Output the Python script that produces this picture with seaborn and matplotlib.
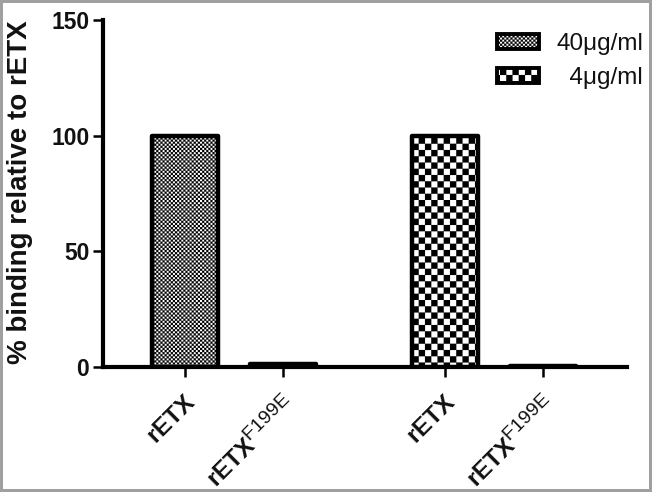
import numpy as np
import pandas as pd
import matplotlib
matplotlib.use("Agg")
import matplotlib.pyplot as plt
import matplotlib.hatch as mhatch
import matplotlib._mathtext as _mt
from matplotlib.path import Path
from matplotlib.patches import Patch
from matplotlib.transforms import ScaledTranslation
import seaborn as sns
import warnings
warnings.filterwarnings("ignore")

# ---- data ----
concentration = ["40μg/ml", "40μg/ml", "4μg/ml", "4μg/ml"]
protein = ["rETX", "rETX F199E", "rETX", "rETX F199E"]
binding = [100, 1.2, 100, 0.3]
tick_labels = [r"$\mathbf{rETX}$", r"$\mathbf{rETX}^{\mathrm{F199E}}$",
               r"$\mathbf{rETX}$", r"$\mathbf{rETX}^{\mathrm{F199E}}$"]
legend_labels = ["40μg/ml", "\u20074μg/ml"]
yticks = [0, 50, 100, 150]
ylabel = "% binding relative to rETX"


# ---- checkerboard hatch ----
class CheckerHatch(mhatch.HatchPatternBase):
    filled = True

    def __init__(self, hatch, density):
        self.n = int(round(hatch.count('c') * density / 3.0))
        self.num_vertices = 2 * self.n * self.n * 5 if self.n else 0

    def set_vertices_and_codes(self, vertices, codes):
        n = self.n
        s = 1.0 / (2 * n)
        k = 0
        for i in range(2 * n):
            for j in range(2 * n):
                if (i + j) % 2 == 0:
                    x0, y0 = i * s, j * s
                    vertices[k:k + 5] = [(x0, y0), (x0 + s, y0), (x0 + s, y0 + s),
                                         (x0, y0 + s), (x0, y0)]
                    codes[k:k + 5] = [Path.MOVETO, Path.LINETO, Path.LINETO,
                                      Path.LINETO, Path.CLOSEPOLY]
                    k += 5


mhatch._hatch_types.append(CheckerHatch)
hatches = {"40μg/ml": "c" * 12, "4μg/ml": "c" * 4}
_mt.SHRINK_FACTOR = 0.8

sns.set_style("ticks")
plt.rcParams['font.family'] = ['Liberation Sans', 'DejaVu Sans']
plt.rcParams['mathtext.fontset'] = 'custom'
plt.rcParams['mathtext.rm'] = 'Liberation Sans'
plt.rcParams['mathtext.bf'] = 'Liberation Sans:bold'
plt.rcParams['mathtext.it'] = 'Liberation Sans:italic'
plt.rcParams['hatch.linewidth'] = 0.1
plt.rcParams['hatch.color'] = 'black'
for key in ['text.color', 'axes.labelcolor', 'xtick.color', 'ytick.color']:
    plt.rcParams[key] = '#111111'

df = pd.DataFrame({"concentration": concentration, "protein": protein,
                   "binding": binding})

fig = plt.figure(figsize=(6.52, 4.92), dpi=100)
fig.patch.set_facecolor("white")
fig.patch.set_edgecolor("#a0a0a0")
fig.patch.set_linewidth(4)
ax = fig.add_axes([102.5 / 652, 1 - 367 / 492, (627 - 102.5) / 652, (367 - 20) / 492])

sns.barplot(data=df, x="concentration", y="binding", hue="protein",
            order=["40μg/ml", "4μg/ml"], hue_order=["rETX", "rETX F199E"],
            dodge=True, width=0.754, gap=0.33, palette=["white", "white"],
            edgecolor="black", linewidth=3.2, errorbar=None, legend=False, ax=ax)

groups = ["40μg/ml", "4μg/ml"]
centers = []
for cont in ax.containers:
    for gi, bar in enumerate(cont):
        bar.set_hatch(hatches[groups[gi]])
        bar.set_joinstyle("round")
        bar.set_zorder(3)
        centers.append(bar.get_x() + bar.get_width() / 2)
centers = sorted(centers)

ax.set_xlim(-0.506, 1.512)
ax.set_ylim(0, 150)
ax.set_yticks(yticks)
ax.set_yticklabels([str(v) for v in yticks], fontsize=16.5, fontweight="bold")
ax.set_xticks(centers)
ax.set_xticklabels(tick_labels, fontsize=17.5, rotation=45, ha="right",
                   va="top", rotation_mode="anchor")
offset = ScaledTranslation(3 / 100, 0, fig.dpi_scale_trans)
for lab in ax.get_xticklabels():
    lab.set_transform(lab.get_transform() + offset)
ax.set_xlabel("")
ax.set_ylabel(ylabel, fontsize=20, fontweight="bold")
ax.yaxis.set_label_coords(-0.1325, 0.505)

for side in ["top", "right"]:
    ax.spines[side].set_visible(False)
for side in ["left", "bottom"]:
    ax.spines[side].set_linewidth(3)
    ax.spines[side].set_color("black")
    ax.spines[side].set_capstyle("projecting")
ax.tick_params(axis="both", width=1.8, length=7.5, color="black")
ax.tick_params(axis="y", pad=2)
ax.tick_params(axis="x", pad=10)

handles = [Patch(facecolor="white", edgecolor="black", hatch=hatches[g],
                 linewidth=2.8, joinstyle="round") for g in groups]
leg = ax.legend(handles, legend_labels, loc="upper right",
                bbox_to_anchor=(643 / 652, 1 - 33 / 492),
                bbox_transform=fig.transFigure, frameon=False, fontsize=17.5,
                handlelength=1.75, handleheight=0.55, handletextpad=0.7,
                labelspacing=0.5, borderpad=0, borderaxespad=0)

fig.savefig("out.png", dpi=100, facecolor=fig.get_facecolor(),
            edgecolor=fig.get_edgecolor())
